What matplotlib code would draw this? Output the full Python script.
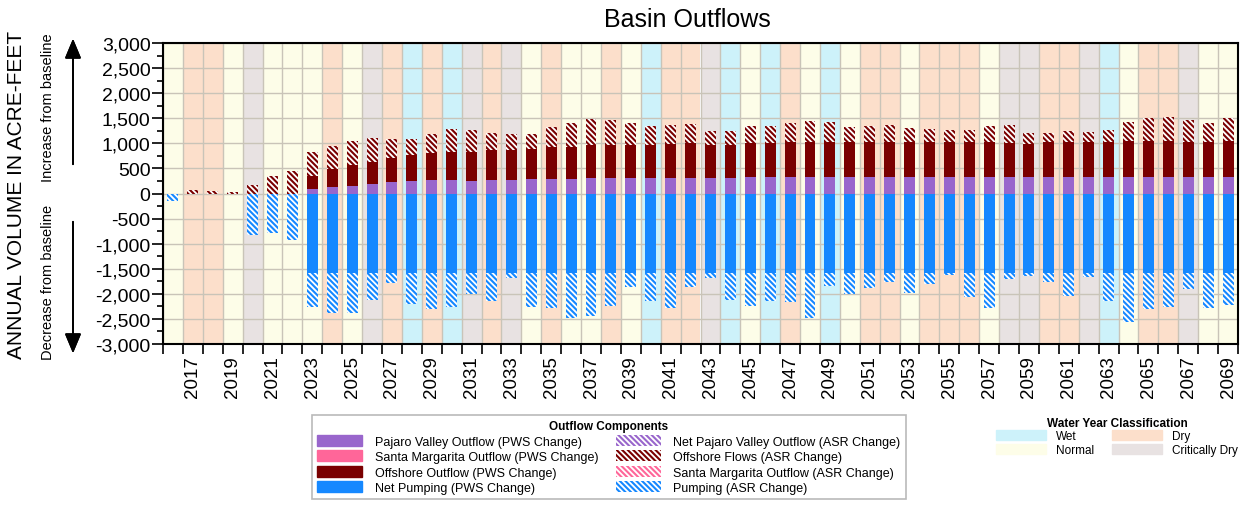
# Basin outflows chart: stacked PWS / ASR change bars over water year classes
import numpy as np
import matplotlib
matplotlib.use("Agg")
import matplotlib.pyplot as plt
import matplotlib.ticker as ticker
from matplotlib.patches import Patch

plt.rcParams["font.family"] = ["Liberation Sans", "DejaVu Sans"]
plt.rcParams["hatch.linewidth"] = 1.5

years = list(range(2016, 2070))

# water year classification (W = wet, N = normal, D = dry, C = critically dry)
year_class = list(
    "NDDNCNNNDNCDWDWCDCNDNNDNWDDCW"
    "NWDNWNDDNDDDNCCDDCWNDDCNN"
)

# positive side (acre-feet)
pajaro_pws = [0, 0, 0, 0, 0, 0, 0, 80, 125, 145, 190, 225, 245, 260, 270, 255, 275, 275,
              290, 290, 290, 300, 300, 300, 315, 315, 315, 310, 315, 320, 320, 320, 320,
              320, 320, 320, 320, 320, 320, 320, 320, 320, 320, 320, 320, 320, 320, 320,
              320, 320, 320, 320, 320, 320]
offshore_pws = [0, 0, 0, 0, 0, 0, 0, 270, 370, 415, 445, 485, 515, 540, 550, 565, 600, 585,
                605, 635, 635, 660, 660, 660, 660, 670, 685, 665, 660, 680, 680, 700, 700,
                700, 700, 700, 700, 700, 700, 700, 710, 710, 690, 675, 700, 710, 700, 700,
                720, 720, 720, 700, 710, 725]
offshore_asr = [0, 70, 40, 25, 170, 355, 455, 475, 460, 495, 480, 370, 325, 385, 475, 450,
                340, 320, 300, 400, 475, 525, 505, 450, 375, 385, 390, 270, 280, 340, 350,
                385, 430, 405, 305, 320, 340, 285, 265, 240, 230, 310, 355, 210, 185, 210,
                215, 240, 380, 465, 485, 450, 370, 455]

# negative side (acre-feet)
pumping_pws = [0, 0, 0, 0, 0, 0, 0] + [-1590] * 47
pumping_asr = [-155, 0, 0, 0, -835, -795, -920, -665, -800, -800, -525, -195, -620, -705,
               -680, -415, -555, -100, -680, -685, -885, -845, -645, -280, -545, -685, -280,
               -85, -525, -660, -555, -580, -885, -245, -420, -300, -180, -395, -220, -35,
               -465, -700, -105, -50, -170, -445, -80, -545, -980, -710, -680, -315, -690,
               -635]

class_colors = {"W": "#cdf2fa", "N": "#fdfde8", "D": "#fcdfcb", "C": "#e8e2e2"}
c_pajaro = "#9966cc"
c_santa = "#ff6699"
c_offshore = "#7a0000"
c_pump = "#1588ff"
HATCH = "\\\\\\\\\\\\"

fig = plt.figure(figsize=(12.52, 5.06), dpi=100)
ax = fig.add_axes([163 / 1252, 1 - 345 / 506, (1238 - 163) / 1252, (345 - 44) / 506])

# background shading per water year
for yr, cl in zip(years, year_class):
    ax.axvspan(yr - 0.5, yr + 0.5, color=class_colors[cl], zorder=0, lw=0)

x = np.array(years)
w = 0.55
pv = np.array(pajaro_pws)
off = np.array(offshore_pws)
ax.bar(x, pv, w, color=c_pajaro, zorder=2)
ax.bar(x, off, w, bottom=pv, color=c_offshore, zorder=2)
ax.bar(x, offshore_asr, w, bottom=pv + off, facecolor="white", edgecolor=c_offshore,
       hatch=HATCH, lw=0, zorder=2)
ax.bar(x, pumping_pws, w, color=c_pump, zorder=2)
ax.bar(x, pumping_asr, w, bottom=pumping_pws, facecolor="white", edgecolor=c_pump,
       hatch=HATCH, lw=0, zorder=2)

ax.set_xlim(2015.5, 2069.5)
ax.set_ylim(-3000, 3000)

ax.xaxis.set_major_locator(ticker.FixedLocator(np.arange(2017, 2070, 2)))
ax.xaxis.set_minor_locator(ticker.FixedLocator(np.arange(2015.5, 2070, 1)))
ax.tick_params(axis="x", which="major", length=0, labelsize=13.5, labelrotation=90, pad=8)
ax.tick_params(axis="x", which="minor", length=7, width=1.2, direction="out")
ax.yaxis.set_major_locator(ticker.MultipleLocator(500))
ax.yaxis.set_minor_locator(ticker.MultipleLocator(250))
ax.yaxis.set_major_formatter(ticker.FuncFormatter(lambda v, _: f"{v:,.0f}"))
ax.tick_params(axis="y", which="major", length=8, width=1.2, labelsize=14, pad=1)
ax.tick_params(axis="y", which="minor", length=4, width=1.2)

ax.grid(True, axis="y", which="major", color="#c9c4b8", lw=1, zorder=0.5)
ax.grid(True, axis="x", which="minor", color="#c9c4b8", lw=1, zorder=0.5)
ax.set_axisbelow(True)
for sp in ax.spines.values():
    sp.set_linewidth(1.5)

fig.text(687 / 1252, 1 - 20 / 506, "Basin Outflows", ha="center", va="center", fontsize=18)

# y axis labels and direction arrows
fig.text(17 / 1252, 1 - 195 / 506, "ANNUAL VOLUME IN ACRE-FEET", rotation=90,
         ha="center", va="center", fontsize=15)
fig.text(48 / 1252, 1 - 108 / 506, "Increase from baseline", rotation=90,
         ha="center", va="center", fontsize=10.5)
fig.text(48 / 1252, 1 - 282 / 506, "Decrease from baseline", rotation=90,
         ha="center", va="center", fontsize=10.5)
arrow = dict(arrowstyle="-|>,head_length=1.2,head_width=0.5", color="black", lw=1.3)
fig.add_artist(plt.annotate("", xy=(73 / 1252, 1 - 37 / 506), xytext=(73 / 1252, 1 - 168 / 506),
                            xycoords="figure fraction", arrowprops=arrow))
fig.add_artist(plt.annotate("", xy=(73 / 1252, 1 - 357 / 506), xytext=(73 / 1252, 1 - 220 / 506),
                            xycoords="figure fraction", arrowprops=arrow))

# legends
hatch_kw = dict(facecolor="white", lw=0, hatch=HATCH)
outflow_handles = [
    Patch(color=c_pajaro, label="Pajaro Valley Outflow (PWS Change)"),
    Patch(color=c_santa, label="Santa Margarita Outflow (PWS Change)"),
    Patch(color=c_offshore, label="Offshore Outflow (PWS Change)"),
    Patch(color=c_pump, label="Net Pumping (PWS Change)"),
    Patch(edgecolor=c_pajaro, label="Net Pajaro Valley Outflow (ASR Change)", **hatch_kw),
    Patch(edgecolor=c_offshore, label="Offshore Flows (ASR Change)", **hatch_kw),
    Patch(edgecolor=c_santa, label="Santa Margarita Outflow (ASR Change)", **hatch_kw),
    Patch(edgecolor=c_pump, label="Pumping (ASR Change)", **hatch_kw),
]
leg1 = fig.legend(handles=outflow_handles, ncol=2, loc="upper center",
                  bbox_to_anchor=(609 / 1252, 1 - 410 / 506), fontsize=9,
                  title="Outflow Components", title_fontproperties={"weight": "bold", "size": 8.5},
                  handlelength=3.6, handleheight=0.95, handletextpad=1.0, labelspacing=0.22,
                  columnspacing=1.4, fancybox=False, edgecolor="#a8a8a8", borderpad=0.4)
leg1.get_frame().set_linewidth(1.2)

class_handles = [
    Patch(color=class_colors["W"], label="Wet"),
    Patch(color=class_colors["N"], label="Normal"),
    Patch(color=class_colors["D"], label="Dry"),
    Patch(color=class_colors["C"], label="Critically Dry"),
]
fig.legend(handles=class_handles, ncol=2, loc="upper center",
           bbox_to_anchor=(1117 / 1252, 1 - 407 / 506), fontsize=8.5,
           title="Water Year Classification", title_fontproperties={"weight": "bold", "size": 8.5},
           handlelength=4.2, handleheight=0.9, handletextpad=0.9, labelspacing=0.15,
           columnspacing=1.5, frameon=False)

fig.savefig("out.png", dpi=100)
